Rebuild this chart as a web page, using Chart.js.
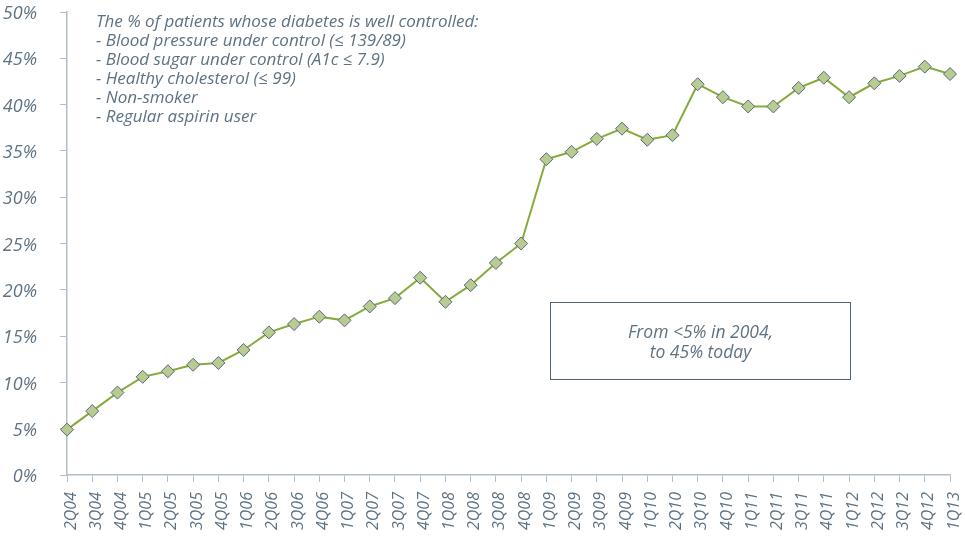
<!DOCTYPE html>
<html>
<head>
<meta charset="utf-8">
<script src="https://cdn.jsdelivr.net/npm/chart.js@4"></script>
<style>
  html, body { margin: 0; padding: 0; background: #fff; }
  #wrap { position: relative; width: 965px; height: 538px; }
  #chart { position: absolute; left: 0; top: 0; }
  .note {
    position: absolute; left: 96px; top: 11px;
    font: italic 17px "Open Sans", sans-serif; line-height: 19px;
    color: #5e7283; white-space: pre;
  }
  .callout {
    position: absolute; left: 550px; top: 302px; width: 299px; height: 76px;
    border: 1.5px solid #4f6373;
    font: italic 17.5px "Open Sans", sans-serif; line-height: 20px;
    color: #5e7283; text-align: center;
    display: flex; align-items: center; justify-content: center;
  }
</style>
</head>
<body>
<div id="wrap">
  <canvas id="chart" width="965" height="538"></canvas>
  <div class="note">The % of patients whose diabetes is well controlled:
- Blood pressure under control (≤ 139/89)
- Blood sugar under control (A1c ≤ 7.9)
- Healthy cholesterol (≤ 99)
- Non-smoker
- Regular aspirin user</div>
  <div class="callout"><div>From &lt;5% in 2004,<br>to 45% today</div></div>
</div>
<script>
// quarters
const quarters = [
  "2Q04", "3Q04", "4Q04",
  "1Q05", "2Q05", "3Q05", "4Q05",
  "1Q06", "2Q06", "3Q06", "4Q06",
  "1Q07", "2Q07", "3Q07", "4Q07",
  "1Q08", "2Q08", "3Q08", "4Q08",
  "1Q09", "2Q09", "3Q09", "4Q09",
  "1Q10", "2Q10", "3Q10", "4Q10",
  "1Q11", "2Q11", "3Q11", "4Q11",
  "1Q12", "2Q12", "3Q12", "4Q12",
  "1Q13"
];

// % well controlled
const wellControlled = [
  4.9, 6.9, 8.9,
  10.6, 11.2, 11.9, 12.1,
  13.5, 15.4, 16.3, 17.1,
  16.7, 18.2, 19.1, 21.3,
  18.7, 20.5, 22.9, 25.0,
  34.1, 34.9, 36.3, 37.4,
  36.2, 36.7, 42.2, 40.8,
  39.8, 39.8, 41.8, 42.9,
  40.8, 42.3, 43.1, 44.1,
  43.3
];

const yMin = 0;
const yMax = 50;
const yStep = 5;

const axisColor = "#b3bdc5";
const labelColor = "#5e7283";

new Chart(document.getElementById("chart"), {
  type: "line",
  data: {
    labels: quarters,
    datasets: [{
      data: wellControlled,
      borderColor: "#86ab3a",
      borderWidth: 2,
      pointStyle: "rectRot",
      pointRadius: 6.5,
      pointBackgroundColor: "#b8cb90",
      pointBorderColor: "#56697a",
      pointBorderWidth: 1,
      tension: 0
    }]
  },
  options: {
    responsive: false,
    animation: false,
    layout: { padding: { top: 12, right: 15, left: 0, bottom: 0 } },
    plugins: { legend: { display: false }, tooltip: { enabled: false } },
    scales: {
      x: {
        grid: { drawOnChartArea: false, color: axisColor, tickLength: 7 },
        border: { color: axisColor, width: 1.5 },
        ticks: {
          color: labelColor,
          font: { family: "Open Sans", style: "italic", size: 16 },
          autoSkip: false, maxRotation: 90, minRotation: 90,
          padding: 10, labelOffset: 4
        },
        afterFit: (scale) => {
          scale.height = 63;
          scale.paddingLeft = 0;
          scale.paddingRight = 0;
        }
      },
      y: {
        min: yMin, max: yMax,
        grid: { drawOnChartArea: false, color: axisColor, tickLength: 7 },
        border: { color: axisColor, width: 1.5 },
        ticks: {
          stepSize: yStep, color: labelColor,
          font: { family: "Open Sans", style: "italic", size: 18 },
          padding: 23, labelOffset: 2,
          callback: (v) => v + "%"
        },
        afterFit: (scale) => {
          scale.width = 67;
          scale.paddingTop = 0;
          scale.paddingBottom = 0;
        }
      }
    }
  }
});
</script>
</body>
</html>
